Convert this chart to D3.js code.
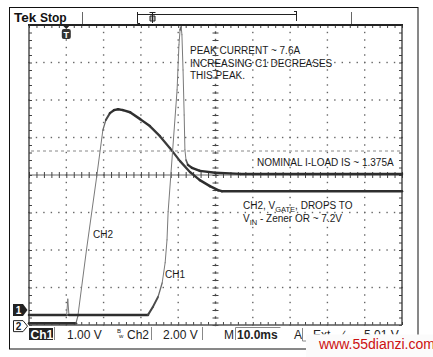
<!DOCTYPE html>
<html><head><meta charset="utf-8">
<script src="https://cdn.jsdelivr.net/npm/d3@7"></script>
<style>
html,body{margin:0;padding:0;background:#fff;}
svg{display:block;}
text{font-family:"Liberation Sans",Arial,sans-serif;}
</style></head>
<body>
<svg id="c" width="433" height="357"></svg>
<script>
// ---- data (time in ms, 10 ms/div; volts) ----
const ch1Time = [0, 10.1, 10.4, 10.7, 31.9, 33.2, 34.6, 35.7, 36.5, 37.0, 37.3, 38.5, 39.7, 40.2, 40.5, 40.8, 41.0, 41.3, 41.6, 41.8, 42.1, 42.6, 43.7, 45.8, 49.9, 56.6, 100];
const ch1Volts = [0, 0, 0.42, 0, 0, 0.21, 0.48, 0.85, 1.39, 2.0, 2.75, 4.37, 6.0, 7.2, 7.6, 7.68, 7.47, 6.53, 5.33, 4.4, 4.13, 4.0, 3.92, 3.84, 3.79, 3.76, 3.76];
const ch2Time = [0, 12.6, 13.1, 15.4, 18.2, 19.8, 20.6, 21.7, 22.8, 23.9, 25.2, 27.1, 29.8, 32.4, 35.1, 37.8, 40.5, 43.2, 45.8, 48.5, 50.7, 51.7, 100];
const ch2Volts = [0, 0, 0.37, 3.89, 7.89, 10.29, 10.83, 11.2, 11.36, 11.41, 11.36, 11.25, 10.88, 10.51, 9.97, 9.33, 8.64, 8.05, 7.63, 7.31, 7.09, 7.04, 7.04];
const ch1VoltsPerDiv = 1.0, ch2VoltsPerDiv = 2.0;
const ch1GroundDiv = -3.73, ch2GroundDiv = -3.95;
const statusLabels = ["Ch1", "1.00 V", "Ch2", "2.00 V", "M", "10.0ms", "A", "Ext", "5.01 V"];
const notes1 = ["PEAK CURRENT ~ 7.6A", "INCREASING C1 DECREASES", "THIS PEAK."];
const noteLoad = "NOMINAL I-LOAD IS ~ 1.375A";

const svg = d3.select("#c");
const L = 29, R = 402, T = 25, B = 325;
const x = d3.scaleLinear().domain([0, 100]).range([L, R]);
const y = d3.scaleLinear().domain([-4, 4]).range([B, T]);

svg.append("defs").append("clipPath").attr("id", "hideLow")
  .append("rect").attr("x", 0).attr("y", 0).attr("width", 433).attr("height", 334.5);

// outer frame
svg.append("rect").attr("x", 9.5).attr("y", 7.5).attr("width", 408.5).attr("height", 341.5)
  .attr("fill", "#fff").attr("stroke", "#111").attr("stroke-width", 1);

// header
svg.append("text").attr("x", 14).attr("y", 22).attr("font-size", 13.5).attr("font-weight", "bold").attr("fill", "#111").text("Tek");
svg.append("text").attr("x", 40).attr("y", 22).attr("font-size", 12).attr("font-weight", "bold").attr("fill", "#111").text("Stop");
svg.append("line").attr("x1", 82.5).attr("x2", 82.5).attr("y1", 12).attr("y2", 25).attr("stroke", "#666");
svg.append("line").attr("x1", 351.5).attr("x2", 351.5).attr("y1", 12).attr("y2", 25).attr("stroke", "#666");
svg.append("path").attr("d", "M140,23.5 H137.5 V12 M137.5,14.5 H296.5 M296.5,11 V21 M294,11.5 H296.5")
  .attr("fill", "none").attr("stroke", "#222").attr("stroke-width", 1);
svg.append("path").attr("d", "M149.5,12.5 H155.5 M152.5,12.5 V23 M150,16 H155 V21 H150 Z")
  .attr("fill", "#bbb").attr("stroke", "#222").attr("stroke-width", 1);

// graticule dots
const g = svg.append("g");
for (let i = 1; i < 10; i++) {
  if (i === 5) continue;
  for (let k = 0; k <= 40; k++) {
    g.append("rect").attr("x", x(i * 10) - 0.7).attr("y", y(-4 + k * 0.2) - 0.7).attr("width", 1.4).attr("height", 1.4).attr("fill", "#666");
  }
}
for (let j = 1; j < 8; j++) {
  if (j === 4) continue;
  for (let k = 0; k <= 50; k++) {
    g.append("rect").attr("x", x(k * 2) - 0.7).attr("y", y(-4 + j) - 0.7).attr("width", 1.4).attr("height", 1.4).attr("fill", "#666");
  }
}
// trigger level dashed line
g.append("line").attr("x1", L + 2).attr("x2", R - 2).attr("y1", 151).attr("y2", 151)
  .attr("stroke", "#888").attr("stroke-width", 1).attr("stroke-dasharray", "3,3");

// center lines
g.append("line").attr("x1", L).attr("x2", R).attr("y1", y(0)).attr("y2", y(0)).attr("stroke", "#666").attr("stroke-width", 1);
for (let k = 0; k <= 40; k++) {
  g.append("rect").attr("x", x(50) - 0.7).attr("y", y(-4 + k * 0.2) - 1.2).attr("width", 1.4).attr("height", 2.4).attr("fill", "#555");
}

const xTicks = d3.range(0, 100.01, 2);
const yTicks = d3.range(-4, 4.001, 0.2);
function tickAxis(axis, tx, ty) {
  const a = svg.append("g").attr("transform", `translate(${tx},${ty})`).call(axis);
  a.select(".domain").remove();
  a.selectAll("text").remove();
  a.selectAll("line").attr("stroke", "#444").attr("stroke-width", 1);
}
tickAxis(d3.axisBottom(x).tickValues(xTicks).tickSize(3).tickFormat(""), 0, T);
tickAxis(d3.axisTop(x).tickValues(xTicks).tickSize(3).tickFormat(""), 0, B);
tickAxis(d3.axisRight(y).tickValues(yTicks).tickSize(3).tickFormat(""), L, 0);
tickAxis(d3.axisLeft(y).tickValues(yTicks).tickSize(3).tickFormat(""), R, 0);
tickAxis(d3.axisBottom(x).tickValues(xTicks).tickSize(6).tickFormat(""), 0, y(0) - 3);
tickAxis(d3.axisRight(y).tickValues(yTicks).tickSize(6).tickFormat(""), x(50) - 3, 0);

// border
svg.append("line").attr("x1", L - 1).attr("x2", R + 1).attr("y1", T).attr("y2", T).attr("stroke", "#222").attr("stroke-width", 2);
svg.append("line").attr("x1", L).attr("x2", L).attr("y1", T).attr("y2", B).attr("stroke", "#333").attr("stroke-width", 1.3);
svg.append("line").attr("x1", R).attr("x2", R).attr("y1", T).attr("y2", B).attr("stroke", "#333").attr("stroke-width", 1.3);
svg.append("line").attr("x1", L).attr("x2", R).attr("y1", B).attr("y2", B).attr("stroke", "#555").attr("stroke-width", 1.3);

// trigger position marker
svg.append("path").attr("d", `M${x(10) - 4},${T} L${x(10) + 4},${T} L${x(10)},${T + 4} Z`).attr("fill", "#222");
svg.append("rect").attr("x", x(10) - 4.5).attr("y", T + 4).attr("width", 9).attr("height", 10).attr("rx", 2).attr("fill", "#333");
svg.append("text").attr("x", x(10)).attr("y", T + 12.5).attr("text-anchor", "middle").attr("font-size", 9).attr("font-weight", "bold").attr("fill", "#fff").text("T");

// traces
function drawTrace(times, volts, vdiv, gnd) {
  const pts = times.map((t, i) => [x(t), y(gnd + volts[i] / vdiv)]);
  const tg = svg.append("g");
  for (let i = 0; i < pts.length - 1; i++) {
    const dx = Math.abs(pts[i + 1][0] - pts[i][0]) + 0.01;
    const dy = Math.abs(pts[i + 1][1] - pts[i][1]);
    const s = dy / dx;
    const f = Math.max(0, Math.min(1, (s - 0.6) / 3.5));
    tg.append("line")
      .attr("x1", pts[i][0]).attr("y1", pts[i][1]).attr("x2", pts[i + 1][0]).attr("y2", pts[i + 1][1])
      .attr("stroke", d3.interpolateRgb("#2e2e2e", "#7a7a7a")(f))
      .attr("stroke-width", 2.5 - 1.5 * f).attr("stroke-linecap", "round");
  }
}
drawTrace(ch2Time, ch2Volts, ch2VoltsPerDiv, ch2GroundDiv);
drawTrace(ch1Time, ch1Volts, ch1VoltsPerDiv, ch1GroundDiv);

// channel ground markers
const y1g = y(ch1GroundDiv) - 5, y2g = y(ch2GroundDiv) + 3;
svg.append("path").attr("d", `M13,${y1g - 6} H23 L27.5,${y1g} L23,${y1g + 6} H13 Z`).attr("fill", "#222");
svg.append("text").attr("x", 18.5).attr("y", y1g + 4).attr("text-anchor", "middle").attr("font-size", 10).attr("font-weight", "bold").attr("fill", "#fff").text("1");
svg.append("path").attr("d", `M13.5,${y2g - 5.5} H23 L27.5,${y2g} L23,${y2g + 5.5} H13.5 Z`).attr("fill", "#fff").attr("stroke", "#222").attr("stroke-width", 1);
svg.append("text").attr("x", 18.5).attr("y", y2g + 4).attr("text-anchor", "middle").attr("font-size", 10).attr("font-weight", "bold").attr("fill", "#222").text("2");

// annotations
const ann = svg.append("g").attr("font-size", 10).attr("fill", "#1a1a1a");
notes1.forEach((s, i) => ann.append("text").attr("x", 190).attr("y", 54 + i * 12.5).text(s));
ann.append("text").attr("x", 257).attr("y", 166).text(noteLoad);
const t1 = ann.append("text").attr("x", 243).attr("y", 209);
t1.append("tspan").text("CH2, V");
t1.append("tspan").attr("font-size", 7.5).attr("dy", 2.5).text("GATE");
t1.append("tspan").attr("dy", -2.5).text(", DROPS TO");
const t2 = ann.append("text").attr("x", 243).attr("y", 222);
t2.append("tspan").text("V");
t2.append("tspan").attr("font-size", 7.5).attr("dy", 2.5).text("IN");
t2.append("tspan").attr("dy", -2.5).text(" - Zener OR ~ 7.2V");
ann.append("text").attr("x", 93).attr("y", 238).text("CH2");
ann.append("text").attr("x", 165).attr("y", 278).text("CH1");

// status bar
const st = svg.append("g").attr("font-size", 12).attr("fill", "#222");
st.append("rect").attr("x", 29).attr("y", 328).attr("width", 24).attr("height", 12).attr("fill", "#222");
st.append("text").attr("x", 30.5).attr("y", 338.5).attr("fill", "#fff").attr("font-weight", "bold").text(statusLabels[0]);
st.append("line").attr("x1", 54.5).attr("x2", 54.5).attr("y1", 327).attr("y2", 340).attr("stroke", "#888");
st.append("text").attr("x", 67).attr("y", 338.5).text(statusLabels[1]);
st.append("text").attr("x", 117).attr("y", 333).attr("font-size", 6).text("B");
st.append("text").attr("x", 119).attr("y", 338).attr("font-size", 6).text("w");
st.append("text").attr("x", 127).attr("y", 338.5).text(statusLabels[2]);
st.append("line").attr("x1", 151.5).attr("x2", 151.5).attr("y1", 327).attr("y2", 340).attr("stroke", "#888");
st.append("text").attr("x", 163).attr("y", 338.5).text(statusLabels[3]);
st.append("line").attr("x1", 202.5).attr("x2", 202.5).attr("y1", 327).attr("y2", 340).attr("stroke", "#888");
st.append("text").attr("x", 224).attr("y", 338.5).text(statusLabels[4]);
st.append("path").attr("d", "M235.5,340 V327.5 H280.5").attr("fill", "none").attr("stroke", "#888");
st.append("text").attr("x", 237).attr("y", 338.5).attr("font-weight", "bold").text(statusLabels[5]);
st.append("text").attr("x", 294).attr("y", 338.5).text(statusLabels[6]);
st.append("path").attr("d", "M302.5,328 V341 H310").attr("fill", "none").attr("stroke", "#888");
const hidden = st.append("g").attr("clip-path", "url(#hideLow)");
hidden.append("text").attr("x", 313).attr("y", 338.5).text(statusLabels[7]);
hidden.append("text").attr("x", 342).attr("y", 338.5).text("\u2215");
hidden.append("text").attr("x", 364).attr("y", 338.5).text(statusLabels[8]);

// watermark
svg.append("rect").attr("x", 306).attr("y", 334.5).attr("width", 127).attr("height", 22.5).attr("fill", "#fbfbfb");
svg.append("text").attr("x", 319).attr("y", 348.5).attr("font-size", 14).attr("fill", "#cc1111").text("www.55dianzi.com");
</script>
</body></html>
